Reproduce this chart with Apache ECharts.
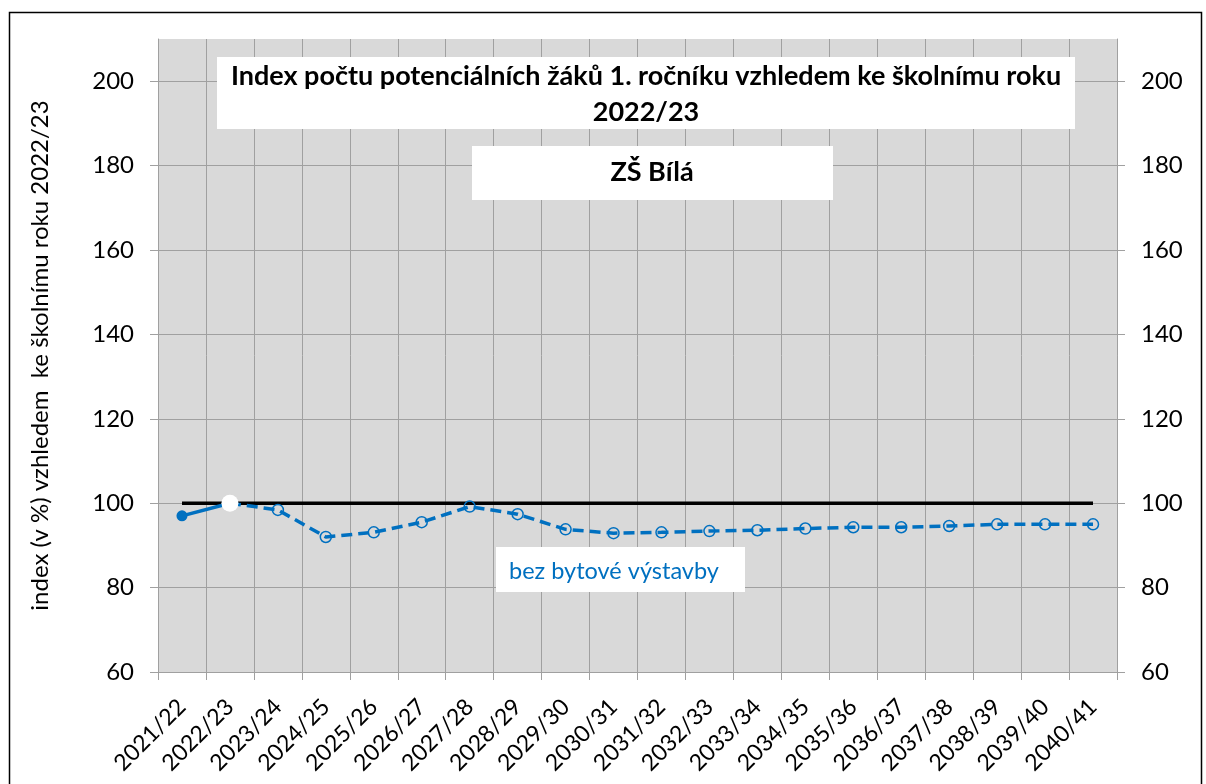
<!DOCTYPE html>
<html>
<head>
<meta charset="utf-8">
<script src="https://cdn.jsdelivr.net/npm/echarts@6/dist/echarts.min.js"></script>
<style>html,body{margin:0;padding:0;background:#fff;}#c{width:1206px;height:784px;}</style>
</head>
<body>
<div id="c"></div>
<script>
const categories = ['2021/22','2022/23','2023/24','2024/25','2025/26','2026/27','2027/28','2028/29','2029/30','2030/31','2031/32','2032/33','2033/34','2034/35','2035/36','2036/37','2037/38','2038/39','2039/40','2040/41'];
const baseline = [100,100,100,100,100,100,100,100,100,100,100,100,100,100,100,100,100,100,100,100];
const actual = [97,100,null,null,null,null,null,null,null,null,null,null,null,null,null,null,null,null,null,null];
const baseYear = [null,100,null,null,null,null,null,null,null,null,null,null,null,null,null,null,null,null,null,null];
const projection = [null,100,98.4,92,93.1,95.5,99.2,97.4,93.8,92.9,93.1,93.4,93.6,94.0,94.3,94.3,94.6,95.0,95.0,95.0];
const yTicks = {min:60, max:210, interval:20};

const FONT = 'Lato, "Open Sans", sans-serif';
const BLUE = '#0070c0';
const GRID = '#a0a0a0';

const chart = echarts.init(document.getElementById('c'), null, {renderer:'canvas'});
const yAxisCommon = {
  type:'value', min:yTicks.min, max:yTicks.max, interval:yTicks.interval,
  axisLine:{show:true, lineStyle:{color:GRID, width:1}},
  axisTick:{show:true, length:8, lineStyle:{color:GRID}},
  axisLabel:{fontSize:24, color:'#000', fontFamily:FONT, showMaxLabel:false, margin:24},
  splitLine:{show:true, showMaxLine:false, lineStyle:{color:GRID, width:1}}
};
chart.setOption({
  animation:false,
  backgroundColor:'#fff',
  grid:{left:158, right:89, top:39, bottom:112, show:true, backgroundColor:'#d9d9d9', borderWidth:0},
  xAxis:{
    type:'category', data:categories, boundaryGap:true,
    axisLine:{show:true, lineStyle:{color:GRID}},
    axisTick:{show:true, length:8, alignWithLabel:false, lineStyle:{color:GRID}},
    axisLabel:{rotate:45, fontSize:23, color:'#000', fontFamily:FONT, interval:0, margin:31},
    splitLine:{show:true, interval:0, lineStyle:{color:GRID, width:1}}
  },
  yAxis:[
    Object.assign({}, yAxisCommon, {position:'left',
      name:'index (v %) vzhledem  ke školnímu roku 2022/23', nameLocation:'middle', nameGap:106, nameRotate:90,
      nameTextStyle:{fontSize:24, color:'#000', fontFamily:FONT}}),
    Object.assign({}, yAxisCommon, {position:'right', splitLine:{show:false}})
  ],
  series:[
    {type:'line', data:baseline, symbol:'none', lineStyle:{color:'#000', width:3.5}, z:2, silent:true},
    {type:'line', data:projection, symbol:'circle', symbolSize:11, connectNulls:false,
      lineStyle:{color:BLUE, width:3.5, type:[11,6]},
      itemStyle:{color:'rgba(0,0,0,0)', borderColor:BLUE, borderWidth:1.5}, z:3},
    {type:'line', data:actual, symbol:'circle', symbolSize:11, lineStyle:{color:BLUE, width:3.5},
      itemStyle:{color:BLUE}, z:4, showSymbol:true},
    {type:'line', data:baseYear, symbol:'circle', symbolSize:17, lineStyle:{width:0},
      itemStyle:{color:'#fff', borderWidth:0}, z:5}
  ],
  graphic:[
    {type:'rect', left:7, top:10, shape:{width:1192, height:790}, style:{fill:'none', stroke:'#000', lineWidth:1.5}, z:0, silent:true},
    {type:'rect', left:217, top:57, shape:{width:858, height:72}, style:{fill:'#fff'}, z:100},
    {type:'text', x:646, y:76, z:101, style:{text:'Index počtu potenciálních žáků 1. ročníku vzhledem ke školnímu roku', fontSize:27, fontWeight:'bold', fontFamily:FONT, fill:'#000', align:'center', verticalAlign:'middle'}},
    {type:'text', x:646, y:112, z:101, style:{text:'2022/23', fontSize:27, fontWeight:'bold', fontFamily:FONT, fill:'#000', align:'center', verticalAlign:'middle'}},
    {type:'rect', left:472, top:146, shape:{width:361, height:54}, style:{fill:'#fff'}, z:100},
    {type:'text', x:652, y:172, z:101, style:{text:'ZŠ Bílá', fontSize:27, fontWeight:'bold', fontFamily:FONT, fill:'#000', align:'center', verticalAlign:'middle'}},
    {type:'rect', left:496, top:547, shape:{width:249, height:45}, style:{fill:'#fff'}, z:100},
    {type:'text', x:509, y:571, z:101, style:{text:'bez bytové výstavby', fontSize:23.5, fontFamily:FONT, fill:BLUE, align:'left', verticalAlign:'middle'}}
  ]
});
</script>
</body>
</html>
